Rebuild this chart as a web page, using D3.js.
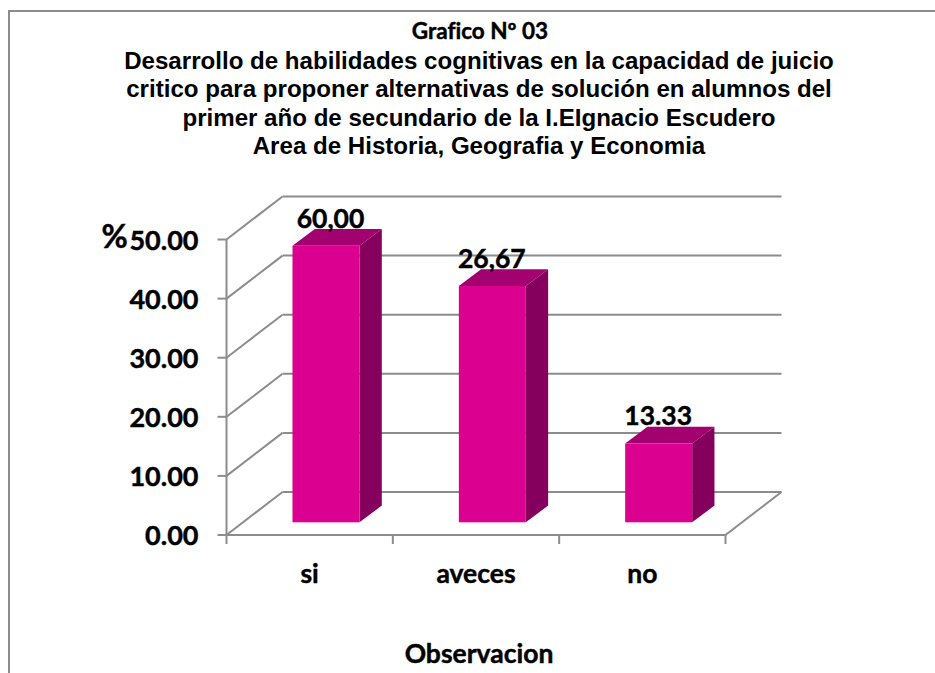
<!DOCTYPE html>
<html><head><meta charset="utf-8">
<script src="https://cdn.jsdelivr.net/npm/d3@7/dist/d3.min.js"></script>
<style>html,body{margin:0;background:#fff}svg{display:block}text{font-variant-ligatures:none;fill:#000}.h{stroke:#000;stroke-width:.45px}</style></head>
<body><svg id="c" width="935" height="673"></svg>
<script>
const categories = ["si","aveces","no"];
const barValues = [46.8,40,13.33];
const valueLabels = ["60,00","26,67","13.33"];
const yTicks = [0,10,20,30,40,50];
const titleLines = ["Desarrollo de habilidades cognitivas en la capacidad de juicio","critico para proponer alternativas de solución en alumnos del","primer año de secundario de la I.EIgnacio Escudero","Area de Historia, Geografia y Economia"];

const svg = d3.select("#c");
const grey="#8c8c8c";
svg.append("path").attr("d","M9,673V11H935").attr("fill","none").attr("stroke",grey).attr("stroke-width",2);

const y = d3.scaleLinear().domain([0,50]).range([535,239.5]);
const x = d3.scaleBand().domain(categories).range([226.5,725.5]);
const dx=56, dy=-43;
const g = svg.append("g");
const line=(x1,y1,x2,y2)=>g.append("line").attr("x1",x1).attr("y1",y1).attr("x2",x2).attr("y2",y2).attr("stroke",grey).attr("stroke-width",2);

yTicks.forEach(t=>{
  line(x.range()[0],y(t),x.range()[0]+dx,y(t)+dy);
  line(x.range()[0]+dx,y(t)+dy,x.range()[1]+dx,y(t)+dy);
  line(x.range()[0]-9,y(t),x.range()[0],y(t));
});
line(x.range()[0],y(0),x.range()[0],y(50));
line(x.range()[0],y(0),x.range()[1],y(0));
line(x.range()[1],y(0),x.range()[1]+dx,y(0)+dy);
[...categories.map(c=>x(c)),x.range()[1]].forEach(v=>line(v,y(0),v,y(0)+9));

const inset=66, by=-12.7, bw=67, ddx=22.3, ddy=-16.7;
const labelNudge=[38,33,33];
const bold=(sel,fam,size)=>sel.attr("font-family",fam).attr("font-weight",700).attr("font-size",size).attr("text-anchor","middle");
const heavy=(size)=>bold(svg.append("text").attr("class","h"),"Lato",size);
categories.forEach((c,i)=>{
  const h=y(0)-y(barValues[i]);
  const l=x(c)+inset, r=l+bw, b=y(0)+by, t=b-h;
  const s=g.append("g");
  s.append("path").attr("d",d3.line()([[l,t],[r,t],[r+ddx,t+ddy],[l+ddx,t+ddy]])+"Z").attr("fill","#a30070");
  s.append("path").attr("d",d3.line()([[r,t],[r+ddx,t+ddy],[r+ddx,b+ddy],[r,b]])+"Z").attr("fill","#85005c");
  s.append("rect").attr("x",l).attr("y",t).attr("width",bw).attr("height",h).attr("fill","#db0090");
  heavy(26.5).attr("x",l+labelNudge[i]).attr("y",t+ddy-1.5).text(valueLabels[i]);
  heavy(26.5).attr("x",x(c)+x.bandwidth()/2).attr("y",583).text(c);
});
yTicks.forEach(t=>heavy(27).attr("text-anchor","end").attr("x",198.5).attr("y",y(t)+10).text(t.toFixed(2)));

heavy(32).attr("x",114.5).attr("y",248).text("%");
heavy(22.5).attr("x",480).attr("y",39).text("Grafico Nº 03");
titleLines.forEach((s,i)=>bold(svg.append("text"),"Liberation Sans",24.1).attr("x",479).attr("y",69+i*28.3).text(s));
heavy(26.5).attr("x",479).attr("y",663).text("Observacion");
</script></body></html>
